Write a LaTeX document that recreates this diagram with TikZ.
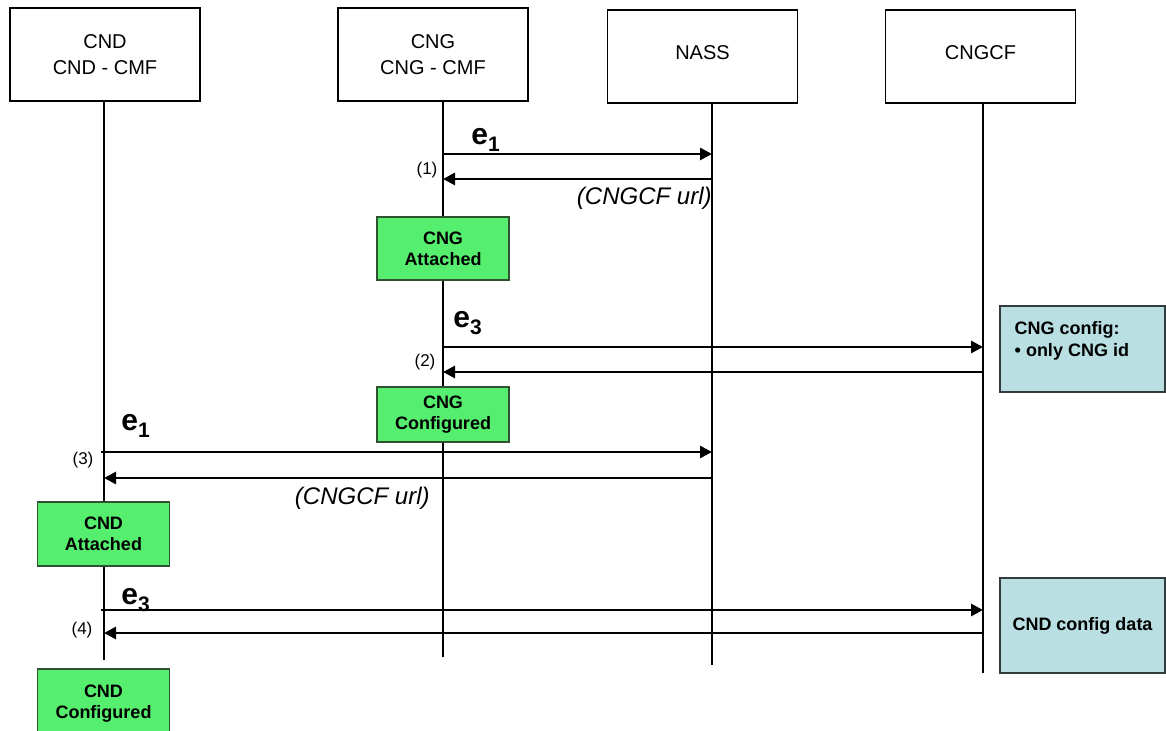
\documentclass[tikz,border=0pt]{standalone}
\usepackage{fontspec}
\setmainfont{Liberation Sans}
\usetikzlibrary{arrows.meta}
\definecolor{box_green}{RGB}{85,238,110}
\definecolor{edge_green}{RGB}{50,80,50}
\definecolor{box_blue}{RGB}{185,223,226}
\definecolor{edge_blue}{RGB}{50,60,60}
\newcommand{\evsub}[1]{\raisebox{-3.5pt}{\fontsize{10.5}{11}\selectfont #1}}

\begin{document}
\begin{tikzpicture}[->,>={Triangle[length=6pt,width=6pt]},x=0.5pt,y=-0.5pt]
    \tikzstyle{ent}=[draw=black, line width=0.8pt, rectangle, minimum width=95pt, minimum height=46.5pt, align=center, font=\fontsize{10}{13}\selectfont]
    \tikzstyle{life}=[-, line width=0.8pt]
    \tikzstyle{st}=[draw=edge_green, fill=box_green, line width=0.7pt, minimum width=66pt, align=center, font=\fontsize{9}{10.5}\selectfont\bfseries]
    \tikzstyle{conf}=[draw=edge_blue, fill=box_blue, line width=0.7pt, minimum width=82.5pt, font=\fontsize{9}{11}\selectfont\bfseries]
    \tikzstyle{msg}=[line width=1.4pt]
    \tikzstyle{ev}=[inner sep=0pt, font=\fontsize{15}{16}\selectfont\bfseries]
    \tikzstyle{num}=[inner sep=0pt, font=\fontsize{8.5}{9}\selectfont]
    \tikzstyle{url}=[inner sep=0pt, font=\fontsize{12}{13}\selectfont\itshape]
    \path[use as bounding box,-] (0,0) rectangle (1166,731);

    % entities
    \node[ent] (cnd)   at (105,54.5)   {CND\\CND - CMF};
    \node[ent] (cng)   at (433,54.5)   {CNG\\CNG - CMF};
    \node[ent, text depth=4pt] (nass)  at (702.5,56.5) {NASS};
    \node[ent, text depth=4pt] (cngcf) at (980.5,56.5) {CNGCF};

    % lifelines
    \coordinate (cndend)   at (104,660);
    \coordinate (cngend)   at (443,657);
    \coordinate (nassend)  at (712,665);
    \coordinate (cngcfend) at (983,673);
    \draw[life] (cnd.south -| cndend) -- (cndend);
    \draw[life] (cng.south -| cngend) -- (cngend);
    \draw[life] (nass.south -| nassend) -- (nassend);
    \draw[life] (cngcf.south -| cngcfend) -- (cngcfend);

    % states
    \node[st, minimum height=31.5pt] (cngatt) at (443,248.5) {CNG\\Attached};
    \node[st, minimum height=27.5pt] (cngconf) at (443,414.5) {CNG\\Configured};
    \node[st, minimum height=32pt] (cndatt) at (103.5,534) {CND\\Attached};
    \node[st, minimum height=35pt] (cndconf) at (103.5,704) {CND\\Configured};

    % configuration data
    \node[conf, minimum height=43pt] (cfg1) at (1082.5,349) {};
    \node[conf, draw=none, fill=none, minimum width=0pt, inner sep=0pt, anchor=north west, align=left] (cfg1t) at (1014,321) {CNG config:\\\textbullet{} only CNG id};
    \node[conf, minimum height=47.5pt] (cfg2) at (1082.5,625.5) {CND config data};

    % message ends
    \coordinate (g1) at (443,154); \coordinate (n1) at (712,154);
    \coordinate (g2) at (443,179); \coordinate (n2) at (712,179);
    \coordinate (g3) at (443,347); \coordinate (f3) at (983,347);
    \coordinate (g4) at (443,372); \coordinate (f4) at (983,372);
    \coordinate (d5) at (101,452); \coordinate (n5) at (712,452);
    \coordinate (d6) at (104,478); \coordinate (n6) at (712,478);
    \coordinate (d7) at (101,610); \coordinate (f7) at (983,610);
    \coordinate (d8) at (104,633); \coordinate (f8) at (983,633);

    \path[msg]
     (g1) edge (n1)
     (n2) edge (g2)
     (g3) edge (f3)
     (f4) edge (g4)
     (d5) edge (n5)
     (n6) edge (d6)
     (d7) edge (f7)
     (f8) edge (d8);

    % labels
    \node[ev, anchor=base west] (e1a) at (471,145) {e\evsub{1}};
    \node[ev, anchor=base west] (e3a) at (453,328) {e\evsub{3}};
    \node[ev, anchor=base west] (e1b) at (121,431) {e\evsub{1}};
    \node[ev, anchor=base west] (e3b) at (121,604) {e\evsub{3}};
    \node[num] (l1) at (427,170) {(1)};
    \node[num] (l2) at (425,362) {(2)};
    \node[num] (l3) at (83,460)  {(3)};
    \node[num] (l4) at (82,630)  {(4)};
    \node[url, anchor=east] (u1) at (712,198) {(CNGCF url)};
    \node[url, anchor=east] (u2) at (430,498) {(CNGCF url)};
\end{tikzpicture}
\end{document}
